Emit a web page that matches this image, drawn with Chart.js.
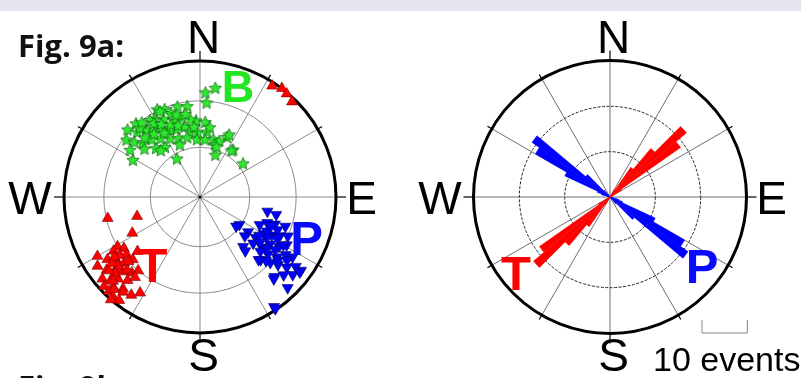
<!DOCTYPE html>
<html>
<head>
<meta charset="utf-8">
<script src="https://cdn.jsdelivr.net/npm/chart.js@4.4.1/dist/chart.umd.min.js"></script>
<style>
  html, body { margin: 0; padding: 0; background: #fff; }
  #page { position: relative; width: 801px; height: 378px; overflow: hidden; background: #fff; }
  #band { position: absolute; left: 0; top: 0; width: 801px; height: 11px; background: #e5e5f2; }
  canvas { position: absolute; top: 0; }
  #stereo { left: 0; }
  #rose { left: 400px; }
</style>
</head>
<body>
<div id="page">
  <canvas id="stereo" width="400" height="378"></canvas>
  <canvas id="rose" width="401" height="378"></canvas>
  <div id="band"></div>
</div>
<script>
'use strict';

// ---- Data ----
// Principal axes, [trend, plunge] in degrees (lower hemisphere)
const bAxes = [
  [3, 24], [8, 20], [4, 31], [334, 29], [338, 31], [346, 32], [352, 33], [341, 35],
  [330, 34], [335, 37], [341, 40], [347, 40], [319, 29], [313, 28], [316, 34], [321, 37],
  [326, 38], [330, 41], [335, 44], [341, 46], [348, 46], [357, 43], [4, 44], [351, 50],
  [358, 51], [6, 50], [308, 32], [310, 37], [313, 42], [320, 44], [326, 47], [333, 50],
  [340, 52], [348, 53], [357, 55], [5, 55], [13, 54], [16, 57], [24, 50], [35, 55],
  [20, 63], [52, 57], [299, 43], [329, 63], [318, 50], [325, 53], [311, 45], [327, 33],
  [335, 31], [317, 40], [353, 42], [336, 45], [339, 56], [320, 53], [19, 54], [8, 47],
  [319, 33], [304, 38], [18, 58], [25, 48], [34, 56], [328, 36], [332, 39], [338, 42],
  [344, 37], [322, 31], [343, 44], [350, 38], [355, 47], [324, 42], [331, 45]
];
const tAxes = [
  [33, 3], [37, 0], [40, 1], [44, 3],
  [257, 31], [253, 50], [242, 43], [240, 14], [239, 30], [236, 33], [238, 26], [232, 32],
  [229, 39], [236, 19], [233, 24], [229, 27], [227, 33], [232, 14], [229, 19], [226, 22],
  [222, 26], [220, 30], [230, 7], [227, 11], [225, 16], [221, 20], [219, 25], [227, 4],
  [224, 9], [220, 13], [224, 4], [221, 3], [219, 11], [215, 13], [212, 18], [218, 4],
  [221, 0], [236, 10], [230, 22], [234, 28], [228, 17], [225, 25], [231, 15], [226, 12],
  [223, 8], [233, 20], [228, 30], [235, 24]
];
const pAxes = [
  [102, 48], [103, 42], [125, 61], [126, 54], [115, 50], [111, 46], [110, 41], [109, 34],
  [131, 54], [126, 48], [120, 45], [118, 40], [116, 35], [114, 30], [139, 50], [131, 47],
  [129, 41], [124, 38], [122, 32], [119, 28], [136, 36], [130, 35], [128, 29], [124, 25],
  [123, 20], [133, 30], [131, 25], [129, 19], [126, 14], [126, 9], [137, 21], [133, 17],
  [130, 12], [127, 9], [136, 8], [146, 3], [129, 62], [140, 47], [137, 37], [138, 20],
  [118, 36], [121, 42], [125, 33], [128, 38], [123, 47], [117, 44], [113, 38], [127, 44],
  [132, 40], [120, 30], [126, 22], [129, 27], [134, 33], [112, 43], [146, 1]
];

// Rose diagram: 5-degree trend bins clockwise from north
const roseBinStarts = [
    0,   5,  10,  15,  20,  25,  30,  35,  40,  45,  50,  55,
   60,  65,  70,  75,  80,  85,  90,  95, 100, 105, 110, 115,
  120, 125, 130, 135, 140, 145, 150, 155, 160, 165, 170, 175,
  180, 185, 190, 195, 200, 205, 210, 215, 220, 225, 230, 235,
  240, 245, 250, 255, 260, 265, 270, 275, 280, 285, 290, 295,
  300, 305, 310, 315, 320, 325, 330, 335, 340, 345, 350, 355
];
const tRoseCounts = [
  0, 0, 0, 0, 0, 0, 2, 8, 14, 22, 19, 3,
  0, 0, 0, 0, 0, 0, 0, 0, 0, 0, 0, 0,
  0, 0, 0, 0, 0, 0, 0, 0, 0, 0, 0, 0,
  0, 0, 0, 0, 0, 0, 2, 8, 14, 22, 19, 3,
  0, 0, 0, 0, 0, 0, 0, 0, 0, 0, 0, 0,
  0, 0, 0, 0, 0, 0, 0, 0, 0, 0, 0, 0
];
const pRoseCounts = [
  0, 0, 0, 0, 0, 0, 0, 0, 0, 0, 0, 0,
  0, 0, 0, 0, 0, 0, 0, 0, 0, 2, 3, 11,
  19, 21, 7, 2, 0, 0, 0, 0, 0, 0, 0, 0,
  0, 0, 0, 0, 0, 0, 0, 0, 0, 0, 0, 0,
  0, 0, 0, 0, 0, 0, 0, 0, 0, 2, 3, 11,
  19, 21, 7, 2, 0, 0, 0, 0, 0, 0, 0, 0
];

const netPlunges = [30, 60];      // small circles on the stereonet
const roseMaxEvents = 30;
const roseStep = 10;
const scaleBarEvents = 10;

// ---- Helpers ----
const DEG = Math.PI / 180;
const LABEL_FONT = '46px "Liberation Sans", Arial, sans-serif';
const LETTER_FONT = 'bold 49px "Liberation Sans", Arial, sans-serif';

// Equal-area (Schmidt) projection, unit radius
function project(trend, plunge) {
  const r = Math.SQRT2 * Math.sin((90 - plunge) * DEG / 2);
  return { x: r * Math.sin(trend * DEG), y: r * Math.cos(trend * DEG) };
}

function starImage(size, fill, stroke) {
  const c = document.createElement('canvas');
  c.width = c.height = size;
  const g = c.getContext('2d');
  const cx = size / 2, cy = size / 2 + 0.6, ro = size / 2 - 0.5, ri = ro * 0.46;
  g.beginPath();
  for (let i = 0; i < 10; i++) {
    const r = i % 2 ? ri : ro;
    const a = -Math.PI / 2 + i * Math.PI / 5;
    g.lineTo(cx + r * Math.cos(a), cy + r * Math.sin(a));
  }
  g.closePath();
  g.fillStyle = fill;
  g.fill();
  g.lineWidth = 0.7;
  g.strokeStyle = stroke;
  g.stroke();
  return c;
}

function drawSpokes(ctx, cx, cy, R, color, width) {
  ctx.save();
  ctx.strokeStyle = color;
  ctx.lineWidth = width;
  for (let a = 0; a < 360; a += 30) {
    ctx.beginPath();
    ctx.moveTo(cx, cy);
    ctx.lineTo(cx + Math.sin(a * DEG) * R, cy - Math.cos(a * DEG) * R);
    ctx.stroke();
  }
  ctx.restore();
}

// Thick primitive circle, tick marks every 30 degrees and compass letters
function drawRim(ctx, cx, cy, R) {
  ctx.save();
  ctx.strokeStyle = '#000';
  ctx.lineWidth = 3;
  ctx.beginPath();
  ctx.arc(cx, cy, R, 0, 2 * Math.PI);
  ctx.stroke();
  ctx.lineWidth = 1.2;
  for (let a = 0; a < 360; a += 30) {
    const len = a % 90 === 0 ? 10 : 5;
    const s = Math.sin(a * DEG), c = Math.cos(a * DEG);
    ctx.beginPath();
    ctx.moveTo(cx + s * (R - 1), cy - c * (R - 1));
    ctx.lineTo(cx + s * (R + len), cy - c * (R + len));
    ctx.stroke();
  }
  ctx.fillStyle = '#000';
  ctx.font = LABEL_FONT;
  ctx.textAlign = 'center';
  ctx.textBaseline = 'alphabetic';
  ctx.fillText('N', cx + 3.5, cy - 144);
  ctx.fillText('S', cx + 3.5, cy + 174);
  ctx.fillText('W', cx - 170, cy + 16.5);
  ctx.fillText('E', cx + 161.5, cy + 16.5);
  ctx.restore();
}

function drawLetter(ctx, text, color, x, y, font) {
  ctx.save();
  ctx.fillStyle = color;
  ctx.font = font || LETTER_FONT;
  ctx.textAlign = 'center';
  ctx.textBaseline = 'alphabetic';
  ctx.fillText(text, x, y);
  ctx.restore();
}

// ---- Stereonet (scatter) ----
const stereoNet = {
  id: 'stereoNet',
  beforeDatasetsDraw(chart) {
    const { ctx, scales: { x, y } } = chart;
    const cx = x.getPixelForValue(0), cy = y.getPixelForValue(0);
    const R = x.getPixelForValue(1) - cx;
    ctx.save();
    ctx.strokeStyle = '#8c8c8c';
    ctx.lineWidth = 1;
    netPlunges.forEach(p => {
      const r = Math.abs(project(0, p).y) * R;
      ctx.beginPath();
      ctx.arc(cx, cy, r, 0, 2 * Math.PI);
      ctx.stroke();
    });
    ctx.restore();
    drawSpokes(ctx, cx, cy, R, '#8c8c8c', 1);
    ctx.save();
    ctx.fillStyle = '#000';
    ctx.beginPath();
    ctx.arc(cx, cy, 1.6, 0, 2 * Math.PI);
    ctx.fill();
    ctx.restore();
    drawRim(ctx, cx, cy, R);
  },
  afterDatasetsDraw(chart) {
    const { ctx, scales: { x, y } } = chart;
    const cx = x.getPixelForValue(0), cy = y.getPixelForValue(0);
    drawLetter(ctx, 'B', '#22e622', cx + 38, cy - 95, 'bold 45px "Liberation Sans", Arial, sans-serif');
    drawLetter(ctx, 'T', '#ff0000', cx - 47.5, cy + 85);
    drawLetter(ctx, 'P', '#0a0aff', cx + 106.5, cy + 58);

    ctx.save();
    ctx.fillStyle = '#111';
    ctx.font = 'bold 31px "Open Sans", "DejaVu Sans", sans-serif';
    ctx.textAlign = 'left';
    ctx.fillText('Fig. 9a:', 18, 57);
    ctx.fillText('Fig. 9b:', 18, 398);
    ctx.restore();
  }
};

const starImg = starImage(14, '#2ee82e', '#0b5e0b');

new Chart(document.getElementById('stereo'), {
  type: 'scatter',
  data: {
    datasets: [
      {
        label: 'B',
        data: bAxes.map(a => project(a[0], a[1])),
        pointStyle: starImg,
        pointRadius: 7,
        clip: false,
      },
      {
        label: 'T',
        data: tAxes.map(a => project(a[0], a[1])),
        pointStyle: 'triangle',
        pointRadius: 6.3,
        backgroundColor: '#ff0000',
        borderColor: '#7a0000',
        borderWidth: 0.6,
        clip: false,
      },
      {
        label: 'P',
        data: pAxes.map(a => project(a[0], a[1])),
        pointStyle: 'triangle',
        rotation: 180,
        pointRadius: 6.4,
        backgroundColor: '#0000ff',
        borderColor: '#00005e',
        borderWidth: 0.6,
        clip: false,
      }
    ]
  },
  options: {
    responsive: false,
    animation: false,
    events: [],
    layout: { padding: { left: 64, right: 64, top: 61, bottom: 45 } },
    scales: {
      x: { type: 'linear', min: -1, max: 1, display: false },
      y: { type: 'linear', min: -1, max: 1, display: false }
    },
    plugins: { legend: { display: false }, tooltip: { enabled: false } }
  },
  plugins: [stereoNet]
});

// ---- Rose diagram (polar area) ----
const roseFrame = {
  id: 'roseFrame',
  beforeDatasetsDraw(chart) {
    const r = chart.scales.r;
    drawSpokes(chart.ctx, r.xCenter, r.yCenter, r.drawingArea, '#4a4a4a', 0.8);
  },
  afterDraw(chart) {
    const { ctx } = chart;
    const r = chart.scales.r;
    const cx = r.xCenter, cy = r.yCenter, R = r.drawingArea;
    drawRim(ctx, cx, cy, R + 0.5);
    drawLetter(ctx, 'T', '#ff0000', cx - 94, cy + 93);
    drawLetter(ctx, 'P', '#0a0aff', cx + 92, cy + 86);

    // scale bar
    const len = r.getDistanceFromCenterForValue(scaleBarEvents);
    const x0 = cx + 92, yb = cy + 136;
    ctx.save();
    ctx.strokeStyle = '#8a8a8a';
    ctx.lineWidth = 1;
    ctx.beginPath();
    ctx.moveTo(x0, yb - 13);
    ctx.lineTo(x0, yb);
    ctx.lineTo(x0 + len, yb);
    ctx.lineTo(x0 + len, yb - 13);
    ctx.stroke();
    ctx.fillStyle = '#000';
    ctx.font = '34px "Liberation Sans", Arial, sans-serif';
    ctx.textAlign = 'left';
    ctx.fillText(scaleBarEvents + ' events', cx + 43, cy + 174);
    ctx.restore();
  }
};

new Chart(document.getElementById('rose'), {
  type: 'polarArea',
  data: {
    labels: roseBinStarts,
    datasets: [
      { label: 'T', data: tRoseCounts, backgroundColor: '#ff0000', borderColor: '#ff0000', borderWidth: 0.5 },
      { label: 'P', data: pRoseCounts, backgroundColor: '#0000ff', borderColor: '#0000ff', borderWidth: 0.5 }
    ]
  },
  options: {
    responsive: false,
    animation: false,
    events: [],
    layout: { padding: { left: 74, right: 55, top: 61, bottom: 45 } },
    scales: {
      r: {
        min: 0,
        max: roseMaxEvents,
        startAngle: 0,
        ticks: { display: false, stepSize: roseStep },
        grid: { circular: true, color: '#222', lineWidth: 1 },
        border: { dash: [3, 1.5] },
        angleLines: { display: false },
        pointLabels: { display: false }
      }
    },
    plugins: { legend: { display: false }, tooltip: { enabled: false } }
  },
  plugins: [roseFrame]
});
</script>
</body>
</html>
